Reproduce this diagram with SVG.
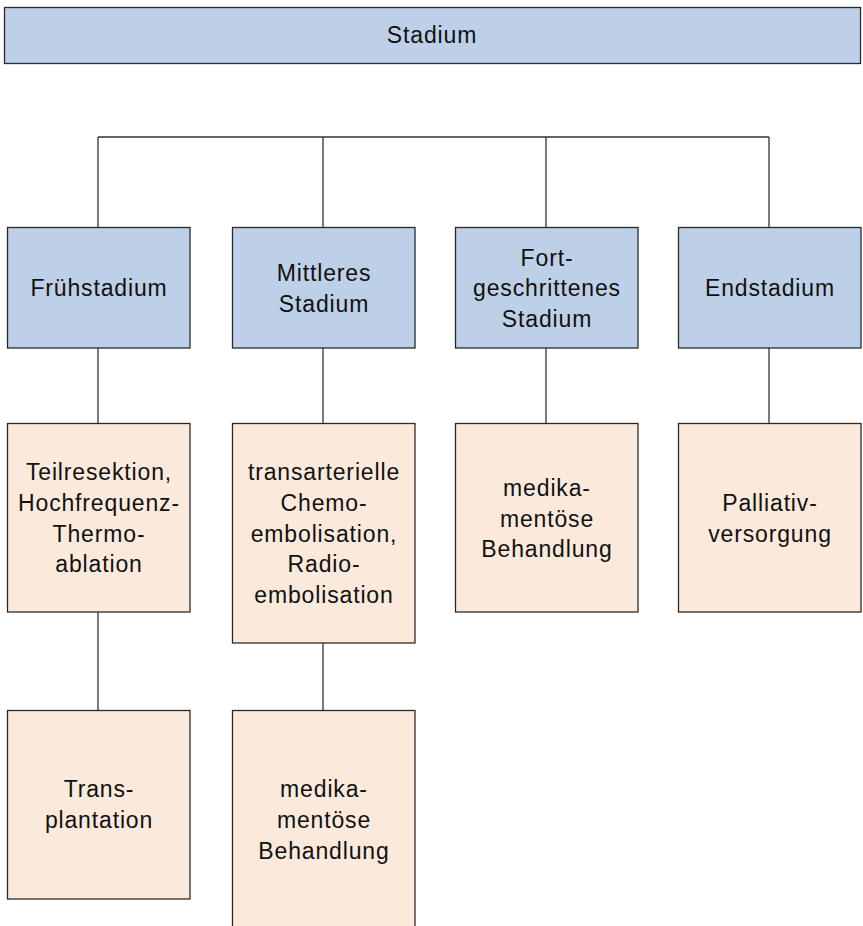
<svg xmlns="http://www.w3.org/2000/svg" width="863" height="926" viewBox="0 0 863 926">
<style>
.blue{fill:#bed0e8;stroke:#2a2a2a;stroke-width:1.3}
.peach{fill:#fbeadc;stroke:#2a2a2a;stroke-width:1.3}
.lbl{font-family:"Liberation Sans",Arial,sans-serif;font-size:23px;letter-spacing:0.85px;fill:#111;text-anchor:middle}
.conn line{stroke:#333;stroke-width:1.3}
</style>
<rect width="863" height="926" fill="#fff"/>
<g class="conn" id="connectors">
<line x1="98" y1="137" x2="769" y2="137"/>
<line x1="98" y1="137" x2="98" y2="227"/>
<line x1="323" y1="137" x2="323" y2="227"/>
<line x1="546" y1="137" x2="546" y2="227"/>
<line x1="769" y1="137" x2="769" y2="227"/>
<line x1="98" y1="348" x2="98" y2="423"/>
<line x1="323" y1="348" x2="323" y2="423"/>
<line x1="546" y1="348" x2="546" y2="423"/>
<line x1="769" y1="348" x2="769" y2="423"/>
<line x1="98" y1="612" x2="98" y2="710"/>
<line x1="323" y1="643" x2="323" y2="710"/>
</g>
<g id="stadium">
<rect class="blue" x="4.5" y="7.5" width="856" height="56"/>
<text class="lbl" x="432" y="43">Stadium</text>
</g>
<g id="fruehstadium">
<rect class="blue" x="7.5" y="227.5" width="182.5" height="120.5"/>
<text class="lbl" x="99" y="296">Frühstadium</text>
</g>
<g id="mittleres">
<rect class="blue" x="232.5" y="227.5" width="182.5" height="120.5"/>
<text class="lbl" x="324" y="281">Mittleres</text>
<text class="lbl" x="324" y="312">Stadium</text>
</g>
<g id="fortgeschritten">
<rect class="blue" x="455.5" y="227.5" width="182.5" height="120.5"/>
<text class="lbl" x="547" y="266">Fort-</text>
<text class="lbl" x="547" y="296">geschrittenes</text>
<text class="lbl" x="547" y="327">Stadium</text>
</g>
<g id="endstadium">
<rect class="blue" x="678.5" y="227.5" width="182.5" height="120.5"/>
<text class="lbl" x="770" y="296">Endstadium</text>
</g>
<g id="teilresektion">
<rect class="peach" x="7.5" y="423.5" width="182.5" height="188.5"/>
<text class="lbl" x="99" y="480">Teilresektion,</text>
<text class="lbl" x="99" y="511">Hochfrequenz-</text>
<text class="lbl" x="99" y="542">Thermo-</text>
<text class="lbl" x="99" y="572">ablation</text>
</g>
<g id="tace">
<rect class="peach" x="232.5" y="423.5" width="182.5" height="219.5"/>
<text class="lbl" x="324" y="480">transarterielle</text>
<text class="lbl" x="324" y="511">Chemo-</text>
<text class="lbl" x="324" y="542">embolisation,</text>
<text class="lbl" x="324" y="572">Radio-</text>
<text class="lbl" x="324" y="603">embolisation</text>
</g>
<g id="medikamentoes1">
<rect class="peach" x="455.5" y="423.5" width="182.5" height="188.5"/>
<text class="lbl" x="547" y="496">medika-</text>
<text class="lbl" x="547" y="527">mentöse</text>
<text class="lbl" x="547" y="557">Behandlung</text>
</g>
<g id="palliativ">
<rect class="peach" x="678.5" y="423.5" width="182.5" height="188.5"/>
<text class="lbl" x="770" y="511">Palliativ-</text>
<text class="lbl" x="770" y="542">versorgung</text>
</g>
<g id="transplantation">
<rect class="peach" x="7.5" y="710.5" width="182.5" height="188.5"/>
<text class="lbl" x="99" y="797">Trans-</text>
<text class="lbl" x="99" y="828">plantation</text>
</g>
<g id="medikamentoes2">
<rect class="peach" x="232.5" y="710.5" width="182.5" height="220"/>
<text class="lbl" x="324" y="797">medika-</text>
<text class="lbl" x="324" y="828">mentöse</text>
<text class="lbl" x="324" y="859">Behandlung</text>
</g>
</svg>
